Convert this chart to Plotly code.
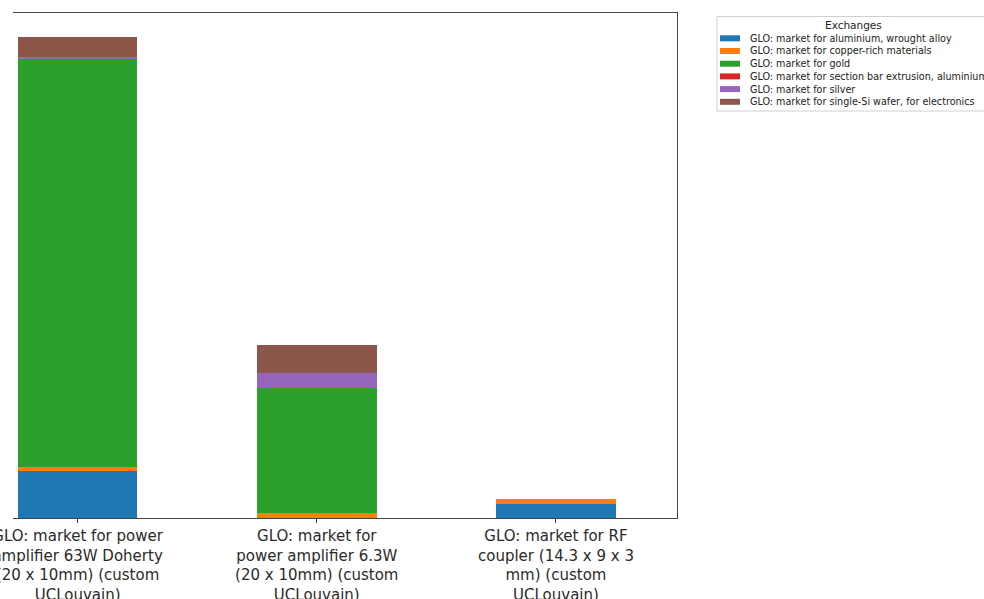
import plotly.graph_objects as go

categories = [
    "GLO: market for power<br>amplifier 63W Doherty<br>(20 x 10mm) (custom<br>UCLouvain)",
    "GLO: market for<br>power amplifier 6.3W<br>(20 x 10mm) (custom<br>UCLouvain)",
    "GLO: market for RF<br>coupler (14.3 x 9 x 3<br>mm) (custom<br>UCLouvain)",
]
series_names = [
    "GLO: market for aluminium, wrought alloy",
    "GLO: market for copper-rich materials",
    "GLO: market for gold",
    "GLO: market for section bar extrusion, aluminium",
    "GLO: market for silver",
    "GLO: market for single-Si wafer, for electronics",
]
aluminium = [0.47, 0.0, 0.14]
copper = [0.04, 0.05, 0.047]
gold = [4.08, 1.25, 0.0]
section_bar = [0.0, 0.0, 0.0]
silver = [0.02, 0.154, 0.0]
wafer = [0.20, 0.276, 0.0]
colors = ["#1f77b4", "#ff7f0e", "#2ca02c", "#d62728", "#9467bd", "#8c564b"]
legend_title = "Exchanges"

series_values = [aluminium, copper, gold, section_bar, silver, wafer]

# plot area in pixels
PL, PR, PT, PB = 13, 677, 13, 518
W, H = 984, 599


def px_x(px):
    return (px - PL) / (PR - PL)


def px_y(py):
    return (PB - py) / (PB - PT)


fig = go.Figure()
for name, vals, col in zip(series_names, series_values, colors):
    fig.add_trace(go.Bar(
        x=[0, 1, 2], y=vals, name=name, width=0.5,
        marker=dict(color=col, line=dict(width=0)),
        showlegend=False,
    ))

# legend (drawn as matplotlib-style box)
shapes = [dict(
    type="rect", xref="paper", yref="paper",
    x0=px_x(717), x1=px_x(995), y0=px_y(111), y1=px_y(16.5),
    line=dict(color="#d0d0d0", width=1), fillcolor="white", layer="above",
)]
annotations = [dict(
    text=legend_title, xref="paper", yref="paper",
    x=px_x(853), y=px_y(25), xanchor="center", yanchor="middle",
    showarrow=False, font=dict(family="DejaVu Sans", size=10.5, color="#222222"),
)]
row0, step = 38.3, 12.7
for i, (name, col) in enumerate(zip(series_names, colors)):
    cy = row0 + i * step
    shapes.append(dict(
        type="rect", xref="paper", yref="paper",
        x0=px_x(720), x1=px_x(740), y0=px_y(cy + 3), y1=px_y(cy - 3),
        line=dict(width=0), fillcolor=col, layer="above",
    ))
    annotations.append(dict(
        text=name, xref="paper", yref="paper",
        x=px_x(748), y=px_y(cy), xanchor="left", yanchor="middle",
        showarrow=False, font=dict(family="DejaVu Sans", size=9.6, color="#222222"),
    ))

fig.update_layout(
    barmode="stack",
    width=W, height=H,
    margin=dict(l=PL, r=W - PR, t=PT, b=H - PB, autoexpand=False),
    paper_bgcolor="white", plot_bgcolor="white",
    showlegend=False,
    shapes=shapes,
    annotations=annotations,
    xaxis=dict(
        range=[-0.27, 2.506],
        tickmode="array", tickvals=[0, 1, 2], ticktext=categories,
        showline=True, linecolor="#444444", linewidth=1, mirror=True,
        ticks="outside", ticklen=4, tickcolor="#444444",
        showgrid=False, zeroline=False, automargin=False,
        ticklabeloverflow="allow",
        tickfont=dict(family="DejaVu Sans", size=15, color="#2a2a2a"),
    ),
    yaxis=dict(
        range=[0, 5.05], side="right",
        showline=True, linecolor="#444444", linewidth=1,
        showticklabels=False, ticks="", showgrid=False, zeroline=False,
        automargin=False,
    ),
)

fig.write_html("out.html")
